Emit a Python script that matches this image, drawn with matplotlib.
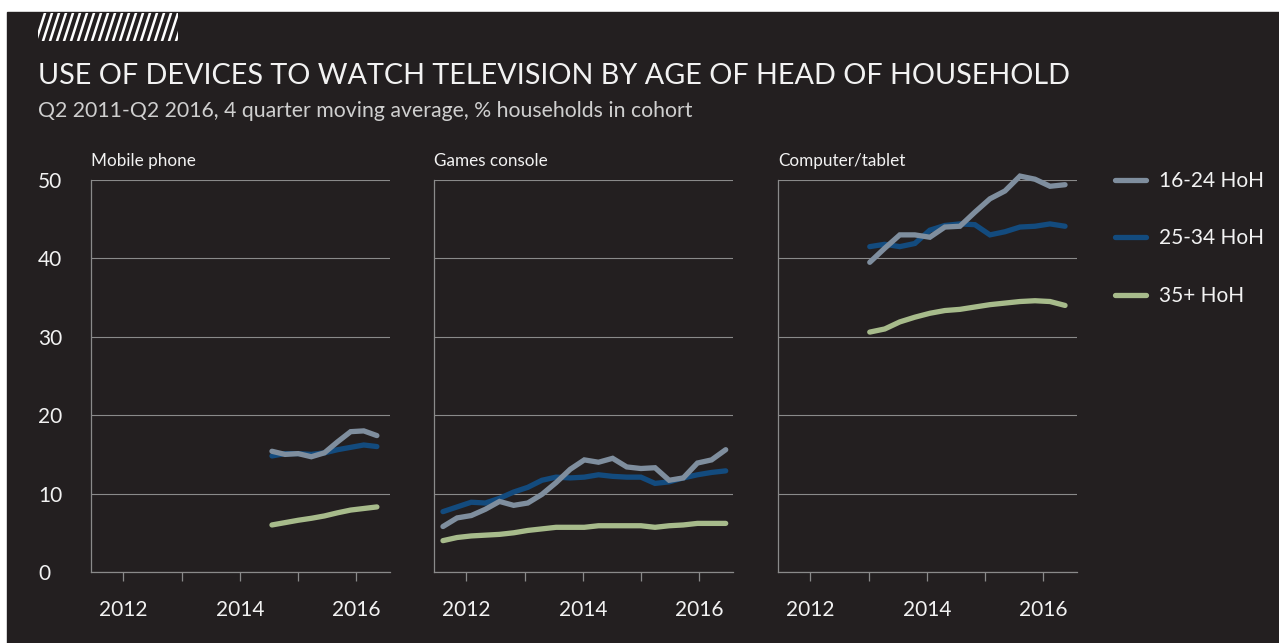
import matplotlib.pyplot as plt
import numpy as np
from matplotlib.patches import Rectangle
from matplotlib.lines import Line2D

plt.rcParams['font.family'] = ['Lato', 'DejaVu Sans']

W, H = 1279, 643
BG = '#231f20'
GRID = '#8a8a8a'
TXT = '#f2f2f2'

SERIES = ['16-24 HoH', '25-34 HoH', '35+ HoH']
COLORS = ['#7f8e9e', '#134b7e', '#a7bb8b']
PANELS = ['Mobile phone', 'Games console', 'Computer/tablet']

# first / last plotted quarter position per panel (all end Q2 2016)
mobile_span = (2014.55, 2016.35)
console_span = (2011.60, 2016.45)
computer_span = (2013.02, 2016.37)

mobile_1624 = [15.4, 15.0, 15.1, 14.7, 15.2, 16.6, 17.9, 18.0, 17.4]
mobile_2534 = [14.8, 15.1, 15.1, 15.0, 15.2, 15.6, 15.9, 16.2, 16.0]
mobile_35 = [6.0, 6.3, 6.6, 6.85, 7.15, 7.55, 7.9, 8.1, 8.3]

console_1624 = [5.8, 6.9, 7.2, 8.0, 9.0, 8.5, 8.8, 9.9, 11.4, 13.1, 14.3,
                14.0, 14.5, 13.4, 13.2, 13.3, 11.7, 12.0, 13.9, 14.3, 15.6]
console_2534 = [7.7, 8.3, 8.9, 8.8, 9.4, 10.2, 10.8, 11.7, 12.1, 12.0, 12.1,
                12.4, 12.2, 12.1, 12.1, 11.3, 11.5, 12.0, 12.4, 12.7, 12.9]
console_35 = [4.0, 4.4, 4.6, 4.7, 4.8, 5.0, 5.3, 5.5, 5.7, 5.7, 5.7,
              5.9, 5.9, 5.9, 5.9, 5.7, 5.9, 6.0, 6.2, 6.2, 6.2]

computer_1624 = [39.5, 41.3, 43.0, 43.0, 42.7, 44.0, 44.1, 45.9, 47.6, 48.6,
                 50.5, 50.1, 49.2, 49.4]
computer_2534 = [41.5, 41.8, 41.5, 41.9, 43.6, 44.2, 44.4, 44.3, 43.0, 43.4,
                 44.0, 44.1, 44.4, 44.1]
computer_35 = [30.6, 31.0, 31.9, 32.5, 33.0, 33.35, 33.5, 33.8, 34.1, 34.3,
               34.5, 34.6, 34.5, 34.0]

panel_data = [
    (mobile_span, [mobile_1624, mobile_2534, mobile_35]),
    (console_span, [console_1624, console_2534, console_35]),
    (computer_span, [computer_1624, computer_2534, computer_35]),
]

fig = plt.figure(figsize=(W / 100, H / 100), dpi=100, facecolor='white')
fig.add_artist(Rectangle((7 / W, 0), 1 - 7 / W, 1 - 12 / H,
                         transform=fig.transFigure, color=BG, zorder=-10))

# hatched tag top-left
clip = Rectangle((38 / W, 1 - 41 / H), 140 / W, 28 / H, transform=fig.transFigure)
for i in range(22):
    x0 = 36 + i * 7
    ln = Line2D([x0 / W, (x0 + 9) / W], [1 - 41 / H, 1 - 13 / H],
                transform=fig.transFigure, color='white', lw=1.8)
    ln.set_clip_path(clip)
    fig.add_artist(ln)

fig.text(38 / W, 1 - 84 / H, 'USE OF DEVICES TO WATCH TELEVISION BY AGE OF HEAD OF HOUSEHOLD',
         color=TXT, fontsize=20.7, va='baseline', ha='left')
fig.text(38 / W, 1 - 117 / H, 'Q2 2011-Q2 2016, 4 quarter moving average, % households in cohort',
         color='#cfcfcf', fontsize=15.3, va='baseline', ha='left')

lefts = [91, 434, 778]
for k, (left, title, (span, series)) in enumerate(zip(lefts, PANELS, panel_data)):
    ax = fig.add_axes([left / W, 1 - 572 / H, 299 / W, 392 / H])
    ax.set_facecolor('none')
    ax.set_xlim(2011.446, 2016.575)
    ax.set_ylim(0, 50)
    ax.set_yticks([0, 10, 20, 30, 40, 50])
    ax.set_xticks([2012, 2014, 2016])
    ax.set_xticks([2013, 2015], minor=True)
    ax.set_xticklabels(['2012', '2014', '2016'])
    ax.grid(axis='y', color=GRID, lw=0.8)
    ax.set_axisbelow(True)
    for s in ['top', 'right']:
        ax.spines[s].set_visible(False)
    for s in ['left', 'bottom']:
        ax.spines[s].set_color(GRID)
        ax.spines[s].set_linewidth(0.9)
    ax.tick_params(axis='x', which='both', length=6.5, width=0.9, color=GRID,
                   labelcolor=TXT, labelsize=15, pad=14)
    ax.tick_params(axis='y', length=0, labelcolor=TXT, labelsize=15, pad=38)
    if k == 0:
        for t in ax.get_yticklabels():
            t.set_horizontalalignment('left')
    else:
        ax.set_yticklabels([])
    ax.text(0, 1.035, title, transform=ax.transAxes, color=TXT, fontsize=12.3,
            ha='left', va='baseline')

    for name, color, vals, z in zip(SERIES, COLORS, series, [3, 2, 1]):
        x = np.linspace(span[0], span[1], len(vals))
        ax.plot(x, vals, color=color, lw=3.8, zorder=z + 2, label=name,
                solid_capstyle='round', solid_joinstyle='miter', clip_on=False)
    if k == 0:
        handles, labels = ax.get_legend_handles_labels()

fig.legend(handles, labels, loc='upper left', bbox_to_anchor=(1115 / W, 1 - 171 / H),
           frameon=False, fontsize=15, labelcolor=TXT, handlelength=1.5,
           handletextpad=0.6, labelspacing=1.8, borderpad=0, borderaxespad=0)

fig.savefig('out.png', dpi=100, facecolor=fig.get_facecolor())
